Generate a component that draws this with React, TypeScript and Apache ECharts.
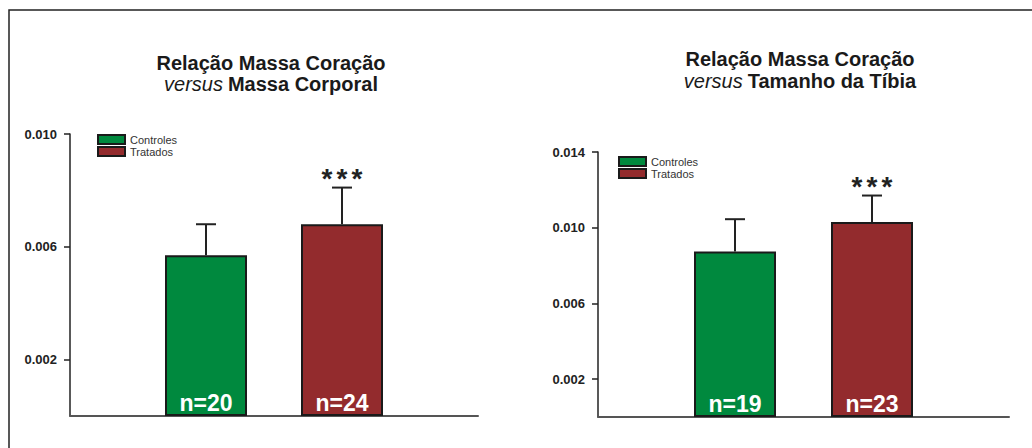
import React, { useEffect, useRef } from "react";
import * as echarts from "echarts";

const categories = ["", "Controles", "Tratados", ""];
const seriesNames = ["Controles", "Tratados"];

// Left chart: heart mass / body mass
const leftMeans = [0.0057, 0.0068];
const leftSem = [0.0011, 0.0013];
const leftN = [20, 24];
const leftTicks = [0.002, 0.006, 0.01];
const leftMax = 0.01;

// Right chart: heart mass / tibia length
const rightMeans = [0.00875, 0.0103];
const rightSem = [0.0017, 0.0014];
const rightN = [19, 23];
const rightTicks = [0.002, 0.006, 0.01, 0.014];
const rightMax = 0.014;

const significance = ["", "***"];

const GREEN = "#00893e";
const RED = "#932b2d";
const FONT = "'Liberation Sans', Arial, Helvetica, sans-serif";

function buildPanel(idx: number, means: number[], sem: number[], ns: number[]) {
  const colors = [GREEN, RED];
  const bars = seriesNames.map((name, i) => ({
    name,
    type: "bar",
    xAxisIndex: idx,
    yAxisIndex: idx,
    stack: "panel" + idx,
    barWidth: 82,
    data: categories.map((_, c) => (c === i + 1 ? means[i] : null)),
    itemStyle: { color: colors[i], borderColor: "#1a1a1a", borderWidth: 2 },
    label: {
      show: true,
      position: "insideBottom",
      distance: 2,
      formatter: () => "n=" + ns[i],
      color: "#ffffff",
      fontFamily: FONT,
      fontWeight: "bold",
      fontSize: 23,
    },
    emphasis: { disabled: true },
  }));
  const err = {
    name: "err" + idx,
    type: "custom",
    xAxisIndex: idx,
    yAxisIndex: idx,
    z: 5,
    data: means.map((m, i) => [i + 1, m, m + sem[i]]),
    encode: { x: 0, y: [1, 2] },
    renderItem: (params: any, api: any) => {
      const x = api.value(0);
      const top = api.coord([x, api.value(1)]);
      const hi = api.coord([x, api.value(2)]);
      const children: any[] = [
        {
          type: "line",
          shape: { x1: top[0], y1: top[1], x2: hi[0], y2: hi[1] },
          style: { stroke: "#222", lineWidth: 2 },
        },
        {
          type: "line",
          shape: { x1: hi[0] - 10, y1: hi[1], x2: hi[0] + 10, y2: hi[1] },
          style: { stroke: "#222", lineWidth: 2 },
        },
      ];
      const s = significance[params.dataIndex];
      if (s) {
        const chars = s.split("");
        chars.forEach((ch, k) => {
          children.push({
            type: "text",
            x: hi[0] + (k - (chars.length - 1) / 2) * 15,
            y: hi[1] - 9,
            style: {
              text: ch,
              align: "center",
              verticalAlign: "middle",
              font: "bold 28px " + FONT,
              fill: "#222",
            },
          });
        });
      }
      return { type: "group", children };
    },
  };
  return [...bars, err];
}

export default function App() {
  const ref = useRef<HTMLDivElement>(null);
  useEffect(() => {
    if (!ref.current) return;
    const chart = echarts.init(ref.current, undefined, { renderer: "svg" });
    const titleRich = (lh: number) => ({
      b: { fontFamily: FONT, fontWeight: "bold", fontSize: 20, color: "#1a1a1a", lineHeight: lh },
      i: { fontFamily: FONT, fontStyle: "italic", fontWeight: "normal", fontSize: 20, color: "#1a1a1a", lineHeight: lh },
    });
    const yAxis = (idx: number, max: number, ticks: number[]) => ({
      type: "value",
      gridIndex: idx,
      min: 0,
      max,
      splitLine: { show: false },
      axisLine: { show: true, lineStyle: { color: "#222", width: 1.5 } },
      axisTick: { show: true, length: 6, customValues: ticks, lineStyle: { color: "#222", width: 1.5 } },
      axisLabel: {
        customValues: ticks,
        margin: 13,
        formatter: (v: number) => v.toFixed(3),
        fontFamily: FONT,
        fontWeight: "bold",
        fontSize: 13,
        color: "#222",
      },
    });
    const xAxis = (idx: number) => ({
      type: "category",
      gridIndex: idx,
      data: categories,
      boundaryGap: false,
      axisLine: { show: true, lineStyle: { color: "#555", width: 2 } },
      axisTick: { show: false },
      axisLabel: { show: false },
      splitLine: { show: false },
    });
    const legend = (left: number, top: number) => ({
      left,
      top,
      orient: "vertical",
      data: seriesNames,
      itemWidth: 27,
      itemHeight: 9,
      itemGap: 1,
      padding: 0,
      selectedMode: false,
      icon: "rect",
      itemStyle: { borderColor: "#1a1a1a", borderWidth: 2 },
      textStyle: { fontFamily: FONT, fontSize: 11, color: "#333" },
    });
    chart.setOption({
      animation: false,
      backgroundColor: "#ffffff",
      title: [
        {
          text: "{b|Relação Massa Coração}\n{i|versus} {b|Massa Corporal}",
          left: 271,
          top: 52,
          padding: 0,
          textAlign: "center",
          textStyle: { rich: titleRich(21) },
        },
        {
          text: "{b|Relação Massa Coração}\n{i|versus} {b|Tamanho da Tíbia}",
          left: 800,
          top: 48,
          padding: 0,
          textAlign: "center",
          textStyle: { rich: titleRich(22) },
        },
      ],
      legend: [legend(97, 134), legend(618, 156)],
      grid: [
        { left: 70, top: 134, width: 408, height: 282 },
        { left: 598, top: 152, width: 411, height: 265 },
      ],
      xAxis: [xAxis(0), xAxis(1)],
      yAxis: [yAxis(0, leftMax, leftTicks), yAxis(1, rightMax, rightTicks)],
      series: [
        ...buildPanel(0, leftMeans, leftSem, leftN),
        ...buildPanel(1, rightMeans, rightSem, rightN),
      ],
      graphic: [
        {
          type: "polyline",
          shape: { points: [[9, 448], [9, 10], [1032, 10]] },
          style: { stroke: "#222", lineWidth: 1.5, fill: null },
          silent: true,
        },
      ],
    });
    return () => chart.dispose();
  }, []);
  return (
    <div
      ref={ref}
      style={{ position: "absolute", left: 0, top: 0, width: 1032, height: 448, background: "#fff" }}
    />
  );
}
